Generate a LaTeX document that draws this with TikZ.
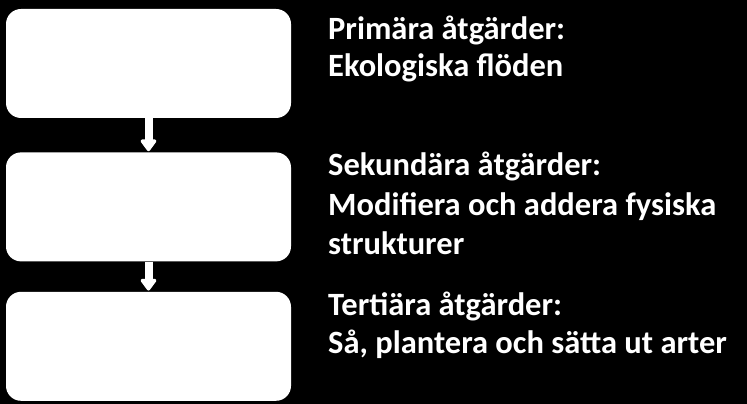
\documentclass[tikz,border=0pt]{standalone}
\usepackage{fontspec}
\setmainfont{Carlito}
\usetikzlibrary{positioning,arrows.meta}

\tikzset{
  stage/.style={fill=white, rounded corners=15pt, minimum width=285pt,
    minimum height=109pt, inner sep=0pt},
  label/.style={text=white, align=left, anchor=base west, inner sep=0pt,
    font=\fontsize{32.5}{37.5}\selectfont\bfseries},
  link/.style={draw=white, line width=8pt,
    -{Triangle[round, length=13pt, width=18pt]}, shorten >=1pt}
}

\begin{document}
\begin{tikzpicture}[x=1pt, y=1pt]

  % Background and picture size
  \fill[black] (0,0) rectangle (747,404);
  \useasboundingbox (0,0) rectangle (747,404);

  % The three stages
  \node[stage] (prim) at (148.5,340.5) {};
  \node[stage, below=34pt of prim] (sek) {};
  \node[stage, below=30pt of sek] (tert) {};

  % Connectors
  \draw[link] (prim) -- (sek);
  \draw[link] (sek) -- (tert);

  % Descriptions (anchored at the last line)
  \node[label] (primtext) at (328,327.3) {Primära åtgärder:\\Ekologiska flöden};
  \node[label, font=\fontsize{32.5}{39.5}\selectfont\bfseries] (sektext) at (328,149)
    {Sekundära åtgärder:\\Modifiera och addera fysiska\\strukturer};
  \node[label] (terttext) at (328,50.7) {Tertiära åtgärder:\\Så, plantera och sätta ut arter};

\end{tikzpicture}
\end{document}
